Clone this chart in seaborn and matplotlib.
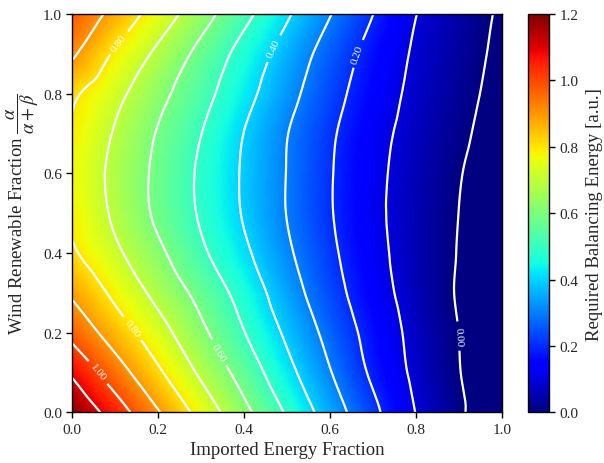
import numpy as np
import matplotlib
matplotlib.use("Agg")
import matplotlib.pyplot as plt
import matplotlib.tri as mtri
import seaborn as sns

# grid coordinates (fractions)
imported_fraction = [0.0, 0.1, 0.2, 0.3, 0.4, 0.5, 0.6, 0.7, 0.8, 0.9, 1.0]
wind_fraction = [0.0, 0.1, 0.2, 0.3, 0.4, 0.5, 0.6, 0.7, 0.8, 0.9, 1.0]

# required balancing energy, one row per wind fraction (bottom to top)
energy_w00 = [1.190, 1.051, 0.906, 0.764, 0.624, 0.488, 0.351, 0.221, 0.097, 0.011, -0.070]
energy_w01 = [1.085, 0.946, 0.815, 0.683, 0.560, 0.428, 0.304, 0.183, 0.080, 0.002, -0.050]
energy_w02 = [0.972, 0.854, 0.739, 0.620, 0.502, 0.383, 0.270, 0.164, 0.072, -0.001, -0.050]
energy_w03 = [0.886, 0.778, 0.672, 0.569, 0.461, 0.344, 0.238, 0.141, 0.061, -0.007, -0.050]
energy_w04 = [0.813, 0.718, 0.619, 0.516, 0.417, 0.314, 0.218, 0.128, 0.058, -0.004, -0.050]
energy_w05 = [0.787, 0.684, 0.582, 0.489, 0.392, 0.297, 0.206, 0.121, 0.057, -0.001, -0.050]
energy_w06 = [0.775, 0.676, 0.579, 0.485, 0.389, 0.297, 0.206, 0.123, 0.060, 0.004, -0.046]
energy_w07 = [0.792, 0.692, 0.593, 0.501, 0.398, 0.302, 0.213, 0.131, 0.068, 0.015, -0.037]
energy_w08 = [0.816, 0.727, 0.628, 0.533, 0.431, 0.330, 0.235, 0.148, 0.078, 0.025, -0.027]
energy_w09 = [0.913, 0.787, 0.680, 0.572, 0.465, 0.360, 0.261, 0.167, 0.088, 0.034, -0.019]
energy_w10 = [0.981, 0.869, 0.755, 0.640, 0.525, 0.411, 0.303, 0.200, 0.101, 0.044, -0.012]

unlabelled_levels = [0.1, 0.3, 0.5, 0.7, 0.9, 1.1]
labelled_levels = [0.0, 0.2, 0.4, 0.6, 0.8, 1.0]
colorbar_ticks = [0.0, 0.2, 0.4, 0.6, 0.8, 1.0, 1.2]
axis_ticks = [0.0, 0.2, 0.4, 0.6, 0.8, 1.0]

Z = np.array([energy_w00, energy_w01, energy_w02, energy_w03, energy_w04,
              energy_w05, energy_w06, energy_w07, energy_w08, energy_w09,
              energy_w10])
Xg, Yg = np.meshgrid(imported_fraction, wind_fraction)

sns.set_theme(style="ticks")
plt.rcParams["font.family"] = ["Liberation Serif", "DejaVu Serif"]
plt.rcParams["mathtext.fontset"] = "stix"
plt.rcParams["xtick.direction"] = "out"
plt.rcParams["ytick.direction"] = "out"

fig = plt.figure(figsize=(6.04, 4.64), dpi=100)
ax = fig.add_axes([0.1197, 0.1093, 0.7119, 0.8584])
cax = fig.add_axes([0.8747, 0.1093, 0.0348, 0.8584])

# smooth rendering of the read grid through matplotlib's triangulation tools
triang = mtri.Triangulation(Xg.ravel(), Yg.ravel())
refiner = mtri.UniformTriRefiner(triang)
interp = mtri.CubicTriInterpolator(triang, Z.ravel(), kind="geom")
tri_f, z_f = refiner.refine_field(Z.ravel(), triinterpolator=interp, subdiv=3)

im = ax.tripcolor(tri_f, z_f, cmap="jet", vmin=0.0, vmax=1.2,
                  shading="gouraud", rasterized=True)
ax.tricontour(tri_f, z_f, levels=unlabelled_levels, colors="white", linewidths=1.6)
cs = ax.tricontour(tri_f, z_f, levels=labelled_levels, colors="white", linewidths=1.6)
label_pos = [(0.107, 0.929), (0.471, 0.912), (0.665, 0.90), (0.906, 0.192),
             (0.343, 0.151), (0.142, 0.213), (0.060, 0.100)]
ax.clabel(cs, inline=True, fmt="%.2f", fontsize=8,
          colors="white", manual=label_pos)

ax.set_xlim(0, 1)
ax.set_ylim(0, 1)
ax.set_xticks(axis_ticks)
ax.set_yticks(axis_ticks)
ax.tick_params(labelsize=11, length=4, width=1, color="black")
for s in ax.spines.values():
    s.set_color("black")
    s.set_linewidth(1)
ax.set_xlabel("Imported Energy Fraction", fontsize=13.5)
ax.set_ylabel(r"Wind Renewable Fraction $\dfrac{\alpha}{\alpha+\beta}$",
              fontsize=13.5, labelpad=1)

cb = fig.colorbar(im, cax=cax, ticks=colorbar_ticks)
cb.ax.tick_params(labelsize=11, length=4, width=1, color="black")
cb.set_label("Required Balancing Energy [a.u.]", fontsize=13.5, labelpad=5)
cb.outline.set_edgecolor("black")
cb.outline.set_linewidth(1)

fig.savefig("out.png", dpi=100)
